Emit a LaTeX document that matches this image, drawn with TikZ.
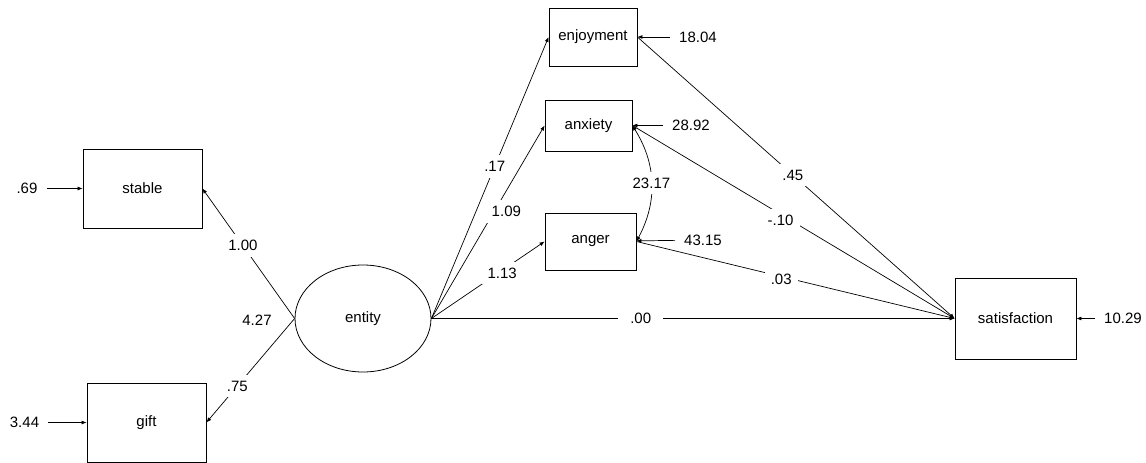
\documentclass[tikz,border=0pt]{standalone}
\usepackage{fontspec}
\setmainfont{Liberation Sans}
\usetikzlibrary{arrows.meta,shapes.geometric}

\tikzset{
    var/.style={draw, rectangle, line width=0.8pt, inner sep=0pt},
    lat/.style={draw, ellipse, line width=0.8pt, inner sep=0pt,
        minimum width=136pt, minimum height=107pt},
    path/.style={line width=0.7pt, -{Latex[length=5pt,width=4pt]}},
    cov/.style={line width=0.7pt, {Latex[length=5pt,width=4pt]}-{Latex[length=5pt,width=4pt]}},
    coef/.style={fill=white, inner sep=6pt},
    resid/.style={inner xsep=9pt, inner ysep=2pt}
}

\begin{document}
\begin{tikzpicture}[x=1pt, y=-1pt, font=\fontsize{15}{18}\selectfont]
            \useasboundingbox (0,0) rectangle (1146,463);
            % variables
            \node[var, minimum width=119pt, minimum height=79pt] (stable) at (142.5,188.5) {stable};
            \node[var, minimum width=119pt, minimum height=79pt] (gift) at (146.5,422.5) {gift};
            \node[lat] (entity) at (363,318.5) {entity};
            \node[var, minimum width=88pt, minimum height=58pt] (enjoyment) at (593,37) {enjoyment};
            \node[var, minimum width=87pt, minimum height=51pt] (anxiety) at (588.5,125.5) {anxiety};
            \node[var, minimum width=91pt, minimum height=57pt] (anger) at (590.5,241.5) {anger};
            \node[var, minimum width=121pt, minimum height=81pt] (satisfaction) at (1015.5,318.5) {satisfaction};
            % residuals
            \node[resid] (r-stable) at (27,188.5) {.69};
            \node[resid] (r-gift) at (24.5,422.5) {3.44};
            \node[resid] (r-enjoyment) at (698,37) {18.04};
            \node[resid] (r-anxiety) at (691,125.5) {28.92};
            \node[resid] (r-anger) at (703,240) {43.15};
            \node[resid] (r-satisfaction) at (1123,318.5) {10.29};
            \node (v-entity) at (257,320) {4.27};
            \foreach \r/\v in {r-stable/stable, r-gift/gift, r-enjoyment/enjoyment,
                r-anxiety/anxiety, r-anger/anger, r-satisfaction/satisfaction}{
                    \draw[path] (\r) -- (\v);
                }
            % loadings
            \draw[path] (entity.west) -- node[coef, pos=0.56] (c-stable) {1.00} (stable.east);
            \draw[path] (entity.west) -- node[coef, pos=0.65] (c-gift) {.75} (gift.east);
            % paths
            \draw[path] (entity.east) -- node[coef, pos=0.54] (c-enjoyment) {.17} (enjoyment.west);
            \draw[path] (entity.east) -- node[coef, pos=0.556, xshift=12pt] (c-anxiety) {1.09} (anxiety.west);
            \draw[path] (entity.east) -- node[coef, pos=0.59, xshift=4pt] (c-anger) {1.13} (anger.west);
            \draw[path] (entity.east) -- node[coef, pos=0.40, inner xsep=12pt] (c-satisfaction) {.00} (satisfaction.west);
            \draw[path] (enjoyment.east) -- node[coef, pos=0.49] (c-enj-sat) {.45} (satisfaction.west);
            \draw[path] (anxiety.east) -- node[coef, pos=0.46, yshift=-6pt] (c-anx-sat) {-.10} (satisfaction.west);
            \draw[path] (anger.east) -- node[coef, pos=0.455, yshift=-3pt] (c-ang-sat) {.03} (satisfaction.west);
            \draw[cov] (anxiety.east) to[bend left=30] node[coef, inner xsep=2pt] (c-cov) {23.17} (anger.east);
        \end{tikzpicture}
\end{document}
